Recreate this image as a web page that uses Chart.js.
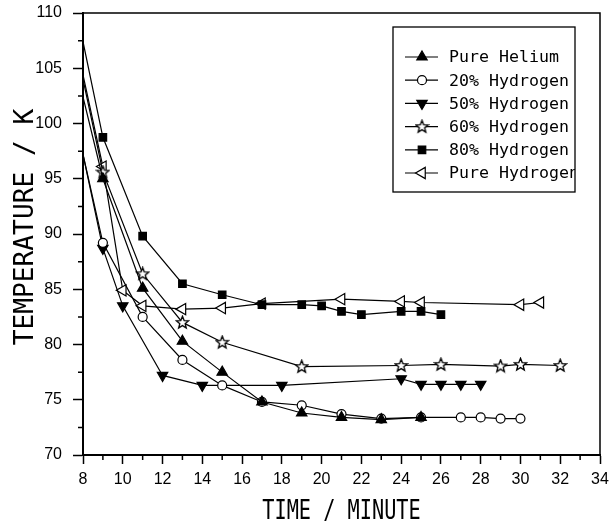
<!DOCTYPE html>
<html>
<head>
<meta charset="utf-8">
<script src="https://cdn.jsdelivr.net/npm/chart.js@4/dist/chart.umd.min.js"></script>
<style>
  html, body { margin: 0; padding: 0; background: #fff; }
  #wrap { width: 611px; height: 527px; }
</style>
</head>
<body>
<div id="wrap"><canvas id="myChart" width="611" height="527"></canvas></div>
<script>
// values
const heliumX = [8, 9, 11, 13, 15, 17, 19, 21, 23, 25];
const heliumY = [102.4, 95.0, 85.1, 80.3, 77.5, 74.8, 73.8, 73.4, 73.2, 73.4];

const h20X = [8, 9, 11, 13, 15, 17, 19, 21, 23, 25, 27, 28, 29, 30];
const h20Y = [97.2, 89.2, 82.5, 78.6, 76.3, 74.8, 74.5, 73.7, 73.3, 73.4, 73.4, 73.4, 73.3, 73.3];

const h50X = [8, 9, 10, 12, 14, 18, 24, 25, 26, 27, 28];
const h50Y = [97.2, 88.7, 83.5, 77.2, 76.3, 76.3, 76.9, 76.4, 76.4, 76.4, 76.4];

const h60X = [8, 9, 11, 13, 15, 19, 24, 26, 29, 30, 32];
const h60Y = [104.0, 95.6, 86.4, 82.0, 80.2, 78.0, 78.1, 78.2, 78.05, 78.2, 78.1];

const h80X = [8, 9, 11, 13, 15, 17, 19, 20, 21, 22, 24, 25, 26];
const h80Y = [107.4, 98.75, 89.8, 85.5, 84.5, 83.6, 83.6, 83.5, 83.0, 82.7, 83.0, 83.0, 82.7];

const pureHX = [8, 9, 10, 11, 13, 15, 17, 21, 24, 25, 30, 31];
const pureHY = [104.4, 96.1, 84.9, 83.5, 83.2, 83.3, 83.7, 84.1, 83.9, 83.8, 83.6, 83.8];

const seriesNames = ['Pure Helium', '20% Hydrogen', '50% Hydrogen', '60% Hydrogen', '80% Hydrogen', 'Pure Hydrogen'];
const xTicks = [8, 10, 12, 14, 16, 18, 20, 22, 24, 26, 28, 30, 32, 34];
const yTicks = [70, 75, 80, 85, 90, 95, 100, 105, 110];

function pts(xs, ys) {
	return xs.map((x, i) => ({x: x, y: ys[i]}));
}

// open five point star marker
function makeStar() {
	let c = document.createElement('canvas');
	c.width = 15; c.height = 15;
	let g = c.getContext('2d');
	g.beginPath();
	for (let i = 0; i < 10; i++) {
		let r = i % 2 === 0 ? 6.5 : 2.8;
		let a = -Math.PI / 2 + i * Math.PI / 5;
		let px = 7.5 + r * Math.cos(a), py = 7.8 + r * Math.sin(a);
		if (i === 0) g.moveTo(px, py); else g.lineTo(px, py);
	}
	g.closePath();
	g.fillStyle = '#fff';
	g.fill();
	g.lineWidth = 1.3;
	g.strokeStyle = '#000';
	g.stroke();
	return c;
}
const starImg = makeStar();

const markers = [
	{pointStyle: 'triangle', rotation: 0, radius: 6, fill: '#000'},
	{pointStyle: 'circle', rotation: 0, radius: 4.5, fill: '#fff'},
	{pointStyle: 'triangle', rotation: 180, radius: 6, fill: '#000'},
	{pointStyle: starImg, rotation: 0, radius: 5, fill: '#fff'},
	{pointStyle: 'rect', rotation: 0, radius: 5.3, fill: '#000'},
	{pointStyle: 'triangle', rotation: -90, radius: 6.5, fill: '#fff'}
];

const allData = [
	pts(heliumX, heliumY), pts(h20X, h20Y), pts(h50X, h50Y),
	pts(h60X, h60Y), pts(h80X, h80Y), pts(pureHX, pureHY)
];

const datasets = allData.map((d, i) => ({
	label: seriesNames[i],
	data: d,
	borderColor: '#000',
	borderWidth: 1.2,
	backgroundColor: markers[i].fill,
	pointBackgroundColor: markers[i].fill,
	pointBorderColor: '#000',
	pointBorderWidth: 1.2,
	pointStyle: markers[i].pointStyle,
	pointRotation: markers[i].rotation,
	pointRadius: function(ctx) { return ctx.dataIndex === 0 ? 0 : markers[i].radius; },
	pointHoverRadius: markers[i].radius,
	tension: 0,
	fill: false
}));

const frame = {
	id: 'frame',
	afterDatasetsDraw(chart) {
		const c = chart.ctx;
		const a = chart.chartArea;
		const xs = chart.scales.x, ys = chart.scales.y;
		c.save();
		c.strokeStyle = '#000';
		// top and right box lines
		c.lineWidth = 1.5;
		c.beginPath();
		c.moveTo(a.left, a.top); c.lineTo(a.right, a.top); c.lineTo(a.right, a.bottom);
		c.stroke();
		// minor ticks
		c.beginPath();
		for (let v = 9; v < 34; v += 2) {
			let px = xs.getPixelForValue(v);
			c.moveTo(px, a.bottom); c.lineTo(px, a.bottom + 5);
		}
		for (let v = 72.5; v < 110; v += 5) {
			let py = ys.getPixelForValue(v);
			c.moveTo(a.left, py); c.lineTo(a.left - 5, py);
		}
		c.stroke();

		// axis titles, condensed
		c.fillStyle = '#000';
		c.textAlign = 'center';
		c.textBaseline = 'middle';
		c.font = '27px "DejaVu Sans Mono"';
		c.save();
		c.translate((a.left + a.right) / 2, 512);
		c.scale(0.75, 1);
		c.fillText('TIME / MINUTE', 0, 0);
		c.restore();
		c.save();
		c.translate(26, 227);
		c.rotate(-Math.PI / 2);
		c.scale(0.97, 1);
		c.fillText('TEMPERATURE / K', 0, 0);
		c.restore();

		// legend box
		const bx = 393, by = 27, bw = 182, bh = 165;
		c.lineWidth = 1.3;
		c.strokeRect(bx, by, bw, bh);
		c.save();
		c.beginPath();
		c.rect(bx, by, bw, bh);
		c.clip();
		c.font = '16.6px "DejaVu Sans Mono"';
		c.textAlign = 'left';
		for (let i = 0; i < seriesNames.length; i++) {
			let ry = 57 + i * 23.2;
			c.strokeStyle = '#000';
			c.lineWidth = 1.2;
			c.beginPath();
			c.moveTo(405, ry); c.lineTo(438, ry);
			c.stroke();
			c.fillStyle = markers[i].fill;
			Chart.helpers.drawPoint(c, {
				pointStyle: markers[i].pointStyle,
				rotation: markers[i].rotation,
				radius: markers[i].radius,
				borderWidth: 1.2
			}, 422, ry);
			c.fillStyle = '#000';
			c.fillText(seriesNames[i], 449, ry + 1);
		}
		c.restore();
		c.restore();
	}
};

const ctx = document.getElementById('myChart').getContext('2d');

const chart = new Chart(ctx, {
	type: 'line',
	data: {datasets: datasets},
	options: {
		responsive: false,
		animation: false,
		layout: {padding: {left: 0, right: 11, top: 13, bottom: 0}},
		plugins: {
			legend: {display: false},
			tooltip: {enabled: false}
		},
		scales: {
			x: {
				type: 'linear',
				min: 8, max: 34,
				afterFit: function(s) { s.height = 72; s.paddingLeft = 0; s.paddingRight = 0; },
				afterBuildTicks: function(s) { s.ticks = xTicks.map(v => ({value: v})); },
				ticks: {color: '#000', font: {family: 'Liberation Sans', size: 16}, padding: 6, maxRotation: 0},
				grid: {drawOnChartArea: false, color: '#000', tickLength: 9, tickWidth: 1.5, tickColor: '#000'},
				border: {color: '#000', width: 2}
			},
			y: {
				type: 'linear',
				min: 70, max: 110,
				afterFit: function(s) { s.width = 83; s.paddingTop = 0; s.paddingBottom = 0; },
				afterBuildTicks: function(s) { s.ticks = yTicks.map(v => ({value: v})); },
				ticks: {color: '#000', font: {family: 'Liberation Sans', size: 16}, padding: 11},
				grid: {drawOnChartArea: false, color: '#000', tickLength: 10, tickWidth: 1.5, tickColor: '#000'},
				border: {color: '#000', width: 2}
			}
		}
	},
	plugins: [frame]
});
</script>
</body>
</html>
